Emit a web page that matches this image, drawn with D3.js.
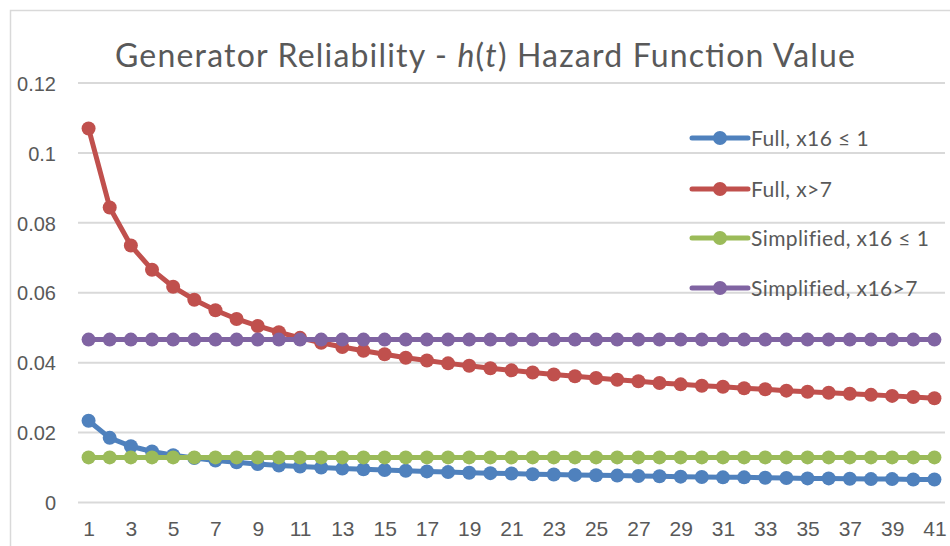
<!DOCTYPE html>
<html>
<head>
<meta charset="utf-8">
<script src="https://cdn.jsdelivr.net/npm/d3@7"></script>
<style>
  body { margin: 0; background: #fff; }
  svg { font-family: Lato, "Open Sans", sans-serif; }
  .tick text { fill: #595959; }
</style>
</head>
<body>
<svg id="gfx" width="950" height="546"></svg>
<script>
// x categories 1..41
var periods = [1,2,3,4,5,6,7,8,9,10,11,12,13,14,15,16,17,18,19,20,
               21,22,23,24,25,26,27,28,29,30,31,32,33,34,35,36,37,38,39,40,41];

var fullLow = [0.0234,0.0185,0.0161,0.0146,0.0135,0.0127,0.0120,0.0115,0.0110,0.0106,
               0.0103,0.0100,0.0097,0.0095,0.0093,0.0091,0.0089,0.0087,0.0085,0.0084,
               0.0083,0.0081,0.0080,0.0079,0.0078,0.0077,0.0076,0.0075,0.0074,0.0073,
               0.0072,0.0072,0.0071,0.0070,0.0069,0.0069,0.0068,0.0067,0.0067,0.0066,0.0066];

var fullHigh = [0.1070,0.0844,0.0735,0.0666,0.0617,0.0580,0.0550,0.0525,0.0505,0.0487,
                0.0471,0.0457,0.0445,0.0434,0.0424,0.0414,0.0406,0.0398,0.0391,0.0384,
                0.0378,0.0372,0.0366,0.0361,0.0356,0.0351,0.0347,0.0342,0.0338,0.0334,
                0.0331,0.0327,0.0324,0.0320,0.0317,0.0314,0.0311,0.0308,0.0305,0.0302,0.0298];

var simpLow = [0.0129,0.0129,0.0129,0.0129,0.0129,0.0129,0.0129,0.0129,0.0129,0.0129,
               0.0129,0.0129,0.0129,0.0129,0.0129,0.0129,0.0129,0.0129,0.0129,0.0129,
               0.0129,0.0129,0.0129,0.0129,0.0129,0.0129,0.0129,0.0129,0.0129,0.0129,
               0.0129,0.0129,0.0129,0.0129,0.0129,0.0129,0.0129,0.0129,0.0129,0.0129,0.0129];

var simpHigh = [0.0466,0.0466,0.0466,0.0466,0.0466,0.0466,0.0466,0.0466,0.0466,0.0466,
                0.0466,0.0466,0.0466,0.0466,0.0466,0.0466,0.0466,0.0466,0.0466,0.0466,
                0.0466,0.0466,0.0466,0.0466,0.0466,0.0466,0.0466,0.0466,0.0466,0.0466,
                0.0466,0.0466,0.0466,0.0466,0.0466,0.0466,0.0466,0.0466,0.0466,0.0466,0.0466];

var seriesNames = ["Full, x16 \u2264 1", "Full, x>7", "Simplified, x16 \u2264 1", "Simplified, x16>7"];
var seriesColors = ["#4f81bd", "#c0504d", "#9bbb59", "#8064a2"];
var yTicks = [0, 0.02, 0.04, 0.06, 0.08, 0.1, 0.12];

var chart = {};

function initialise() {
    chart.svg = d3.select("#gfx");
    chart.left = 78;
    chart.right = 945;
    chart.top = 83;
    chart.bottom = 502.5;

    chart.x = d3.scalePoint()
        .domain(periods)
        .range([chart.left, chart.right])
        .padding(0.5);

    chart.y = d3.scaleLinear()
        .domain([0, 0.12])
        .range([chart.bottom, chart.top]);

    drawFrame();
    drawAxes();
    drawSeries();
    drawLegend();
}

function drawFrame() {
    chart.svg.append("rect")
        .attr("x", 10.5).attr("y", 10.5)
        .attr("width", 1000).attr("height", 1000)
        .attr("fill", "none")
        .attr("stroke", "#d9d9d9")
        .attr("stroke-width", 1.5);

    var title = chart.svg.append("text")
        .attr("x", 485).attr("y", 67)
        .attr("text-anchor", "middle")
        .attr("fill", "#595959")
        .attr("textLength", 740)
        .attr("lengthAdjust", "spacing")
        .style("font-size", "32px");
    title.append("tspan").text("Generator Reliability - ");
    title.append("tspan").style("font-style", "italic").text("h");
    title.append("tspan").text("(");
    title.append("tspan").style("font-style", "italic").text("t");
    title.append("tspan").text(") Hazard Function Value");
}

function drawAxes() {
    var svg = chart.svg;

    // horizontal gridlines
    svg.append("g").attr("class", "grid")
        .selectAll("line")
        .data(yTicks)
        .enter().append("line")
        .attr("x1", chart.left).attr("x2", chart.right)
        .attr("y1", d => chart.y(d)).attr("y2", d => chart.y(d))
        .attr("stroke", "#d9d9d9")
        .attr("stroke-width", 2);

    var yAxis = svg.append("g")
        .attr("transform", "translate(" + chart.left + ",0)")
        .call(d3.axisLeft(chart.y).tickValues(yTicks).tickSize(0).tickPadding(22)
            .tickFormat(d => d3.format("")(+d.toFixed(2))));
    yAxis.select(".domain").remove();
    yAxis.selectAll("text").style("font-size", "20px").attr("dy", "0.36em");

    var xAxis = svg.append("g")
        .attr("transform", "translate(0," + chart.bottom + ")")
        .call(d3.axisBottom(chart.x).tickValues(periods.filter(d => d % 2 == 1)).tickSize(0).tickPadding(18));
    xAxis.select(".domain").remove();
    xAxis.selectAll("text").style("font-size", "21px").attr("dy", "0.72em");
}

function drawSeries() {
    var all = [fullLow, fullHigh, simpLow, simpHigh];
    var line = d3.line()
        .x((d, i) => chart.x(periods[i]))
        .y(d => chart.y(d));

    var groups = chart.svg.selectAll("g.series")
        .data(all)
        .enter().append("g").attr("class", "series");

    groups.append("path")
        .attr("d", d => line(d))
        .attr("fill", "none")
        .attr("stroke", (d, i) => seriesColors[i])
        .attr("stroke-width", 5)
        .attr("stroke-linejoin", "round");

    groups.each(function(vals, s) {
        d3.select(this).selectAll("circle")
            .data(vals)
            .enter().append("circle")
            .attr("cx", (d, i) => chart.x(periods[i]))
            .attr("cy", d => chart.y(d))
            .attr("r", 7)
            .attr("fill", seriesColors[s]);
    });
}

function drawLegend() {
    var rows = chart.svg.append("g").attr("class", "legend")
        .selectAll("g")
        .data(seriesNames)
        .enter().append("g")
        .attr("transform", (d, i) => "translate(0," + [138, 189, 238, 288][i] + ")");

    rows.append("line")
        .attr("x1", 692).attr("x2", 748)
        .attr("stroke", (d, i) => seriesColors[i])
        .attr("stroke-width", 5)
        .attr("stroke-linecap", "round");

    rows.append("circle")
        .attr("cx", 720).attr("r", 7)
        .attr("fill", (d, i) => seriesColors[i]);

    rows.append("text")
        .attr("x", 751).attr("dy", "0.36em")
        .attr("fill", "#595959")
        .style("font-size", "21px")
        .style("letter-spacing", "0.4px")
        .text(d => d);
}

initialise();
</script>
</body>
</html>
